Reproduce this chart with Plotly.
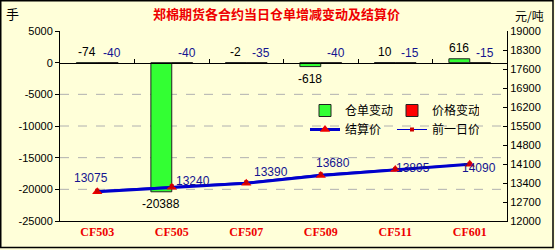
import plotly.graph_objects as go

# ---- data ----
contracts = ["CF503", "CF505", "CF507", "CF509", "CF511", "CF601"]
warrant_change = [-74, -20388, -2, -618, 10, 616]
price_change = [-40, -40, -35, -40, -15, -15]
settle_price = [13075, 13240, 13390, 13680, 13895, 14090]
prev_price = [13115, 13280, 13425, 13720, 13910, 14105]
left_ticks = [5000, 0, -5000, -10000, -15000, -20000, -25000]
right_ticks = [19000, 18300, 17600, 16900, 16200, 15500, 14800, 14100, 13400, 12700, 12000]

title_text = "郑棉期货各合约当日仓单增减变动及结算价"
left_unit = "手"
right_unit = "元/吨"

# ---- style ----
BG = "#FFFFD9"
FONT = "Liberation Sans, Noto Sans CJK SC, sans-serif"
CJK = "Noto Sans CJK SC, sans-serif"
NAVY = "#141490"
W, H = 555, 250
ML, MR, MT, MB = 60, 48, 31, 29
PW, PH = W - ML - MR, H - MT - MB
# label offsets (px) for settlement price labels
settle_dx = [-6, 21, 25, 12, 18, 9]
settle_dy = [14, 6, 11, 12, 2, -4]


def px_x(p):
    return (p - ML) / PW


def px_y(p):
    return (H - MB - p) / PH


fig = go.Figure()

fig.add_trace(go.Bar(
    x=contracts, y=warrant_change, name="仓单变动",
    marker=dict(color="#33FF33", line=dict(color="#222222", width=1)),
    legend="legend", yaxis="y", xaxis="x",
))
fig.add_trace(go.Bar(
    x=contracts, y=price_change, name="价格变动",
    marker=dict(color="#FF0000", line=dict(color="#222222", width=1)),
    legend="legend", yaxis="y", xaxis="x",
))
fig.add_trace(go.Scatter(
    x=contracts, y=settle_price, name="结算价", yaxis="y2", xaxis="x",
    mode="lines+markers",
    line=dict(color="#0000CC", width=3),
    marker=dict(symbol="triangle-up", size=9, color="#EE0000"),
    legend="legend2",
))
fig.add_trace(go.Scatter(
    x=contracts, y=prev_price, name="前一日价", yaxis="y2", xaxis="x",
    mode="lines+markers",
    line=dict(color="#0000CC", width=1),
    marker=dict(symbol="square", size=4, color="#CC0000"),
    legend="legend2",
))
# helper (invisible) trace so the zero-level category axis is drawn
fig.add_trace(go.Scatter(
    x=list(range(len(contracts))), y=[0] * len(contracts), xaxis="x2", yaxis="y",
    mode="markers", marker=dict(opacity=0), showlegend=False, hoverinfo="skip",
))

annotations = []
for c, v in zip(contracts, warrant_change):
    if v < -300:
        annotations.append(dict(x=c, y=v, xref="x", yref="y", text=str(v), showarrow=False,
                                xshift=-10.5, yshift=-12, font=dict(family=FONT, size=12, color="#000000")))
    else:
        annotations.append(dict(x=c, y=max(v, 0), xref="x", yref="y", text=str(v), showarrow=False,
                                xshift=-10.5, yshift=11, font=dict(family=FONT, size=12, color="#000000")))
for c, v in zip(contracts, price_change):
    annotations.append(dict(x=c, y=0, xref="x", yref="y", text=str(v), showarrow=False,
                            xshift=15, yshift=10, font=dict(family=FONT, size=12, color=NAVY)))
for c, v, dx, dy in zip(contracts, settle_price, settle_dx, settle_dy):
    annotations.append(dict(x=c, y=v, xref="x", yref="y2", text=str(v), showarrow=False,
                            xshift=dx, yshift=dy, font=dict(family=FONT, size=12, color=NAVY)))

annotations.append(dict(x=px_x(276), y=px_y(14), xref="paper", yref="paper", text="<b>" + title_text + "</b>",
                        showarrow=False, yanchor="middle", xanchor="center",
                        font=dict(family=CJK, size=13, color="#EE0000")))
annotations.append(dict(x=px_x(12), y=px_y(14), xref="paper", yref="paper", text=left_unit,
                        showarrow=False, yanchor="middle", xanchor="center",
                        font=dict(family=CJK, size=13, color="#000000")))
annotations.append(dict(x=px_x(529), y=px_y(16), xref="paper", yref="paper", text=right_unit,
                        showarrow=False, yanchor="middle", xanchor="center",
                        font=dict(family=CJK, size=12, color="#000000")))

shapes = []
for v in left_ticks:
    if v not in (max(left_ticks), 0, min(left_ticks)):
        shapes.append(dict(type="line", xref="paper", yref="y", x0=0, x1=1, y0=v, y1=v,
                           line=dict(color="#B0B0B0", width=1, dash="dash"), layer="below"))
shapes.append(dict(type="rect", xref="paper", yref="paper",
                   x0=px_x(0.75), x1=px_x(553), y0=px_y(247.5), y1=px_y(0.75),
                   line=dict(color="#000000", width=1.5)))

n = len(contracts)
fig.update_layout(
    width=W, height=H,
    margin=dict(l=ML, r=MR, t=MT, b=MB, pad=0),
    paper_bgcolor=BG, plot_bgcolor=BG,
    barmode="group", bargap=0.44, bargroupgap=0,
    font=dict(family=FONT, size=11, color="#000000"),
    xaxis=dict(type="category", categoryarray=contracts, range=[-0.5, n - 0.5],
               showline=True, linecolor="#000000", linewidth=1, ticks="", showgrid=False,
               tickfont=dict(family="Liberation Serif, serif", size=12, color="#EE0000", weight="bold"),
               zeroline=False),
    xaxis2=dict(overlaying="x", anchor="free",
                position=(0 - min(left_ticks)) / (max(left_ticks) - min(left_ticks)),
                range=[-0.5, n - 0.5], tickmode="array",
                tickvals=[i + 0.5 for i in range(n - 1)],
                ticks="inside", ticklen=4, tickcolor="#000000",
                showline=True, linecolor="#000000", linewidth=1,
                showticklabels=False, showgrid=False, zeroline=False),
    yaxis=dict(range=[min(left_ticks), max(left_ticks)], tickmode="array", tickvals=left_ticks,
               ticktext=[str(v) for v in left_ticks],
               ticks="outside", ticklen=4, tickcolor="#000000",
               showline=True, linecolor="#000000", linewidth=1,
               showgrid=False, zeroline=False, tickfont=dict(family=FONT, size=11)),
    yaxis2=dict(range=[min(right_ticks), max(right_ticks)], tickmode="array", tickvals=right_ticks,
                ticktext=[str(v) for v in right_ticks],
                overlaying="y", side="right", anchor="x",
                ticks="inside", ticklen=4, tickcolor="#000000",
                showline=True, linecolor="#000000", linewidth=1,
                showgrid=False, zeroline=False, tickfont=dict(family=FONT, size=11)),
    legend=dict(x=px_x(305), y=px_y(96), xanchor="left", yanchor="top", orientation="h",
                entrywidth=42, entrywidthmode="pixels", bgcolor="rgba(0,0,0,0)",
                font=dict(family=CJK, size=12), itemwidth=30, tracegroupgap=0),
    legend2=dict(x=px_x(305), y=px_y(115), xanchor="left", yanchor="top", orientation="h",
                 entrywidth=42, entrywidthmode="pixels", bgcolor="rgba(0,0,0,0)",
                 font=dict(family=CJK, size=12), itemwidth=30, tracegroupgap=0),
    annotations=annotations, shapes=shapes,
    showlegend=True,
)

fig.write_html("out.html")
